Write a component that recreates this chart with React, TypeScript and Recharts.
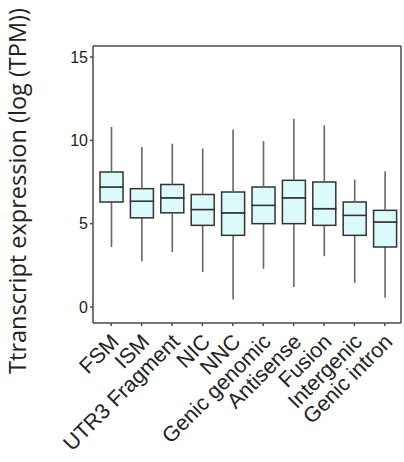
import React from 'react';
import { ComposedChart, Bar, XAxis, YAxis } from 'recharts';

const categories = [
  'FSM',
  'ISM',
  'UTR3 Fragment',
  'NIC',
  'NNC',
  'Genic genomic',
  'Antisense',
  'Fusion',
  'Intergenic',
  'Genic intron',
];
const mins = [3.6, 2.75, 3.3, 2.1, 0.45, 2.3, 1.2, 3.05, 1.45, 0.55];
const q1s = [6.3, 5.35, 5.65, 4.9, 4.3, 5.0, 5.0, 4.9, 4.3, 3.6];
const medians = [7.2, 6.35, 6.55, 5.85, 5.65, 6.1, 6.55, 5.9, 5.5, 5.1];
const q3s = [8.1, 7.1, 7.35, 6.75, 6.9, 7.2, 7.6, 7.5, 6.3, 5.8];
const maxs = [10.8, 9.6, 9.8, 9.5, 10.65, 9.95, 11.3, 10.9, 7.65, 8.15];
const yTicks = [0, 5, 10, 15];

const data = categories.map((name, i) => ({
  name,
  base: mins[i],
  lowWhisker: q1s[i] - mins[i],
  lowBox: medians[i] - q1s[i],
  highBox: q3s[i] - medians[i],
  highWhisker: maxs[i] - q3s[i],
}));

const BOX_FILL = '#dbfbfb';
const BOX_STROKE = '#333';
const WHISKER = '#666';
const FRAME = '#4a4a4a';

const Whisker = (props: any) => {
  const { x, y, width, height } = props;
  const cx = x + width / 2;
  return <line x1={cx} x2={cx} y1={y} y2={y + height} stroke={WHISKER} strokeWidth={1.6} />;
};

const BoxPart = (props: any) => {
  const { x, y, width, height } = props;
  return (
    <rect
      x={x}
      y={y}
      width={width}
      height={height}
      fill={BOX_FILL}
      stroke={BOX_STROKE}
      strokeWidth={1.5}
    />
  );
};

const XTick = (props: any) => {
  const { x, payload } = props;
  return (
    <g transform={`translate(${x + 9},343)`}>
      <text
        textAnchor="end"
        transform="rotate(-45)"
        fontSize={21.5}
        fontFamily="'Liberation Sans', Arial, sans-serif"
        fill="#222"
      >
        {payload.value}
      </text>
    </g>
  );
};

export default function App() {
  return (
    <div style={{ position: 'absolute', left: 0, top: 0, width: 404, height: 462, background: '#fff' }}>
      <ComposedChart
        width={404}
        height={462}
        data={data}
        margin={{ top: 45, right: 2, bottom: 0, left: 0 }}
        barCategoryGap={0}
      >
        <XAxis
          dataKey="name"
          interval={0}
          padding={{ left: 3, right: 1 }}
          stroke={FRAME}
          strokeWidth={1.5}
          tickSize={3}
          tick={<XTick />}
          height={139}
        />
        <XAxis
          xAxisId="top"
          orientation="top"
          dataKey="name"
          tick={false}
          tickLine={false}
          height={1}
          stroke={FRAME}
          strokeWidth={1.5}
        />
        <YAxis
          domain={[-0.96, 15.66]}
          ticks={yTicks}
          allowDataOverflow
          width={93}
          stroke={FRAME}
          strokeWidth={1.5}
          tickSize={3}
          tick={{ fontSize: 16, fill: '#222', fontFamily: "'Liberation Sans', Arial, sans-serif" }}
        />
        <YAxis
          yAxisId="right"
          orientation="right"
          tick={false}
          tickLine={false}
          width={1}
          stroke={FRAME}
          strokeWidth={1.5}
        />
        <Bar dataKey="base" stackId="b" barSize={23} fill="none" isAnimationActive={false} shape={() => null} />
        <Bar dataKey="lowWhisker" stackId="b" barSize={23} isAnimationActive={false} shape={Whisker} />
        <Bar dataKey="lowBox" stackId="b" barSize={23} isAnimationActive={false} shape={BoxPart} />
        <Bar dataKey="highBox" stackId="b" barSize={23} isAnimationActive={false} shape={BoxPart} />
        <Bar dataKey="highWhisker" stackId="b" barSize={23} isAnimationActive={false} shape={Whisker} />
      </ComposedChart>
      <svg width={404} height={462} style={{ position: 'absolute', left: 0, top: 0, pointerEvents: 'none' }}>
        <text
          x={26}
          y={191}
          transform="rotate(-90 26 191)"
          textAnchor="middle"
          fontSize={23.5}
          fontFamily="'Open Sans', sans-serif"
          fill="#222"
        >
          Ttranscript expression (log (TPM))
        </text>
      </svg>
    </div>
  );
}
